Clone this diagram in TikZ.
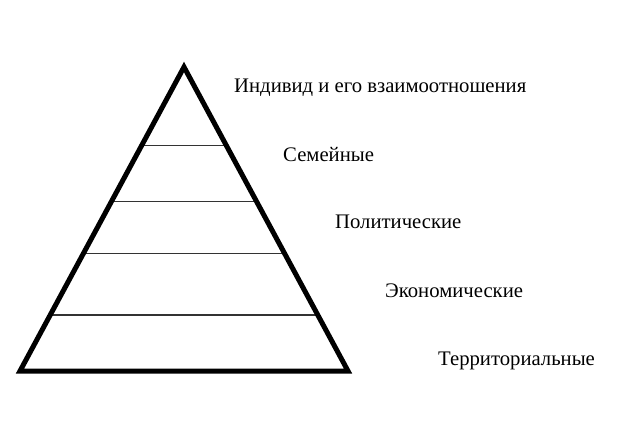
\documentclass[tikz,border=0pt]{standalone}
\usepackage{fontspec}
\setmainfont{Liberation Serif}
\usetikzlibrary{calc}
\begin{document}
\begin{tikzpicture}[x=1pt,y=-1pt,
  outline/.style={line width=5pt,line join=miter},
  level/.style={line width=1.3pt,black!80},
  lbl/.style={anchor=base west,inner sep=0pt,font=\fontsize{20.7}{24}\selectfont}]
\useasboundingbox (0,0) rectangle (624,429);
\coordinate (A) at (184,67);
\coordinate (L) at (20,371);
\coordinate (R) at (348,371);
\foreach \t/\n in {0.259/1,0.443/2,0.613/3,0.816/4}{
  \coordinate (l\n) at ($(A)!\t!(L)$);
  \coordinate (r\n) at ($(A)!\t!(R)$);
  \draw[level] (l\n) -- (r\n);
}
\draw[outline] (A) -- (L) -- (R) -- cycle;
\node[lbl] (t1) at (234,92) {Индивид и его взаимоотношения};
\node[lbl] (t2) at (283,161) {Семейные};
\node[lbl] (t3) at (335,228) {Политические};
\node[lbl] (t4) at (385,297) {Экономические};
\node[lbl] (t5) at (438,365) {Территориальные};
\end{tikzpicture}
\end{document}
